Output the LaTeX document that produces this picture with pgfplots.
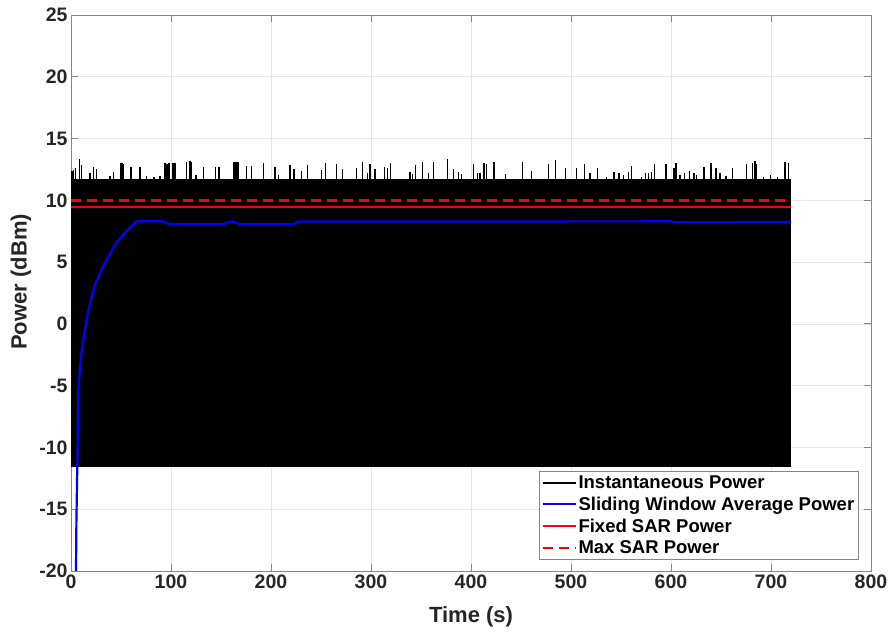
\documentclass[border=0pt]{standalone}
\usepackage{pgfplots}
\pgfplotsset{compat=1.18}
\usepackage{fontspec}
\setmainfont{Liberation Sans}
\definecolor{txt}{HTML}{262626}
\definecolor{axc}{HTML}{868686}
\definecolor{grd}{HTML}{E6E6E6}
\definecolor{sblue}{HTML}{0000FF}
\definecolor{sred}{HTML}{FF0000}

\begin{document}
\begin{tikzpicture}
\begin{axis}[
  scale only axis, width=800pt, height=556pt,
  xmin=0, xmax=800, ymin=-20, ymax=25,
  xtick={0,100,...,800}, ytick={-20,-15,...,25},
  grid=major, major grid style={grd, line width=0.6pt},
  axis line style={axc, line width=0.8pt},
  tick style={axc, line width=0.8pt},
  major tick length=7pt, tick align=inside,
  /pgf/number format/assume math mode=true,
  ticklabel style={font=\fontsize{19.5}{20}\selectfont\bfseries, text=txt},
  xlabel={Time (s)}, ylabel={Power (dBm)},
  label style={font=\fontsize{22}{24}\selectfont\bfseries, text=txt},
  xlabel style={at={(axis description cs:0.5,-0.0935)}, anchor=base},
  ylabel style={at={(axis description cs:-0.0625,0.52)}, anchor=center},
  legend style={at={(0.985,0.02)}, anchor=south east, draw=axc, line width=0.6pt,
    font=\fontsize{18.5}{22}\selectfont\bfseries, inner sep=2.5pt, row sep=3pt,
    cells={anchor=west}},
  legend image code/.code={\draw[line width=1.8pt, #1] (0pt,0pt) -- (33pt,0pt);},
]
% instantaneous power: dense block plus spikes
\addplot[fill=black, draw=none, forget plot] coordinates {
  (0,-11.55) (0,11.71) (720,11.71) (720,-11.55)};
\addplot[ycomb, black, line width=1.4pt, forget plot] coordinates {
  (1,12.4) (2.3,12.46) (4.7,12.6) (8.3,13.32) (10.7,12.86) (19,12.19) (22.3,12.73)
  (25.7,12.5) (39,11.97) (42.3,12.32) (50,13.05) (51.5,13.05) (52.5,12.95) (60,12.73)
  (69,12.73) (75.7,11.97) (83,11.92) (89,11.97) (94,13.0) (96,12.9) (98,13.0)
  (102,13.05) (104,13.0) (115.7,13.13) (119,13.2) (120.7,13.13) (125,12.05)
  (132.3,12.73) (144.7,12.73) (148,12.73) (163,13.13) (165,13.13) (167,13.1)
  (175.7,12.78) (180.7,12.78) (192.3,13.0) (204,12.68) (207.3,12.05) (219,12.86)
  (223,12.5) (230.7,12.4) (236.7,12.86) (250.7,12.45) (254.7,13.0) (265.7,12.95)
  (271.7,12.55) (285.7,12.65) (291.7,13.1) (296.3,12.2) (299,12.95) (304,12.55)
  (313.3,12.73) (316.3,12.6) (319.3,13.05) (339,12.27) (341.7,12.11) (344.3,12.86)
  (351.3,13.08) (357.3,12.19) (362.3,13.13) (376.3,13.32) (382.3,12.5) (387.3,12.27)
  (390.7,12.11) (402.3,12.94) (406.3,12.19) (409,12.24) (413,13.05) (415.7,12.94)
  (423,13.08) (434.7,12.11) (451.7,13.13) (460.7,12.4) (477.7,12.94) (484.3,13.25)
  (494.7,12.65) (505.7,12.65) (513.3,12.9) (519,12.19) (526.7,12.6) (535.7,11.92)
  (543,12.32) (548,12.19) (552.3,12.05) (557.3,12.32) (560.7,12.78) (570.7,11.85)
  (574.7,12.24) (577.3,12.24) (580.7,12.32) (583.3,12.95) (595,12.95) (603,12.6)
  (605,13.05) (609,12.05) (613.3,12.19) (618.3,12.4) (623,12.24) (625.7,12.05)
  (633,12.73) (640,13.05) (645,12.6) (649,12.19) (655,11.97) (661.7,12.6)
  (675.7,12.95) (681.7,13.0) (684,13.2) (685.7,12.95) (692.3,11.85) (699.7,12.05)
  (706.3,11.85) (714,13.13) (717.3,13.0)};
\addlegendimage{black}
\addlegendentry{Instantaneous Power}
\addplot[sblue, line width=2.2pt] coordinates {
  (4.9,-21) (5.4,-16) (6.3,-11.5) (7.3,-5.6) (9,-3.45) (11.7,-1.56) (16.7,0.87)
  (23.3,3.02) (31.7,4.64) (45,6.53) (55,7.5) (65,8.25) (67,8.3) (92,8.3) (96,8.15)
  (99,8.07) (152,8.07) (157,8.22) (160.7,8.3) (164,8.22) (169,8.07) (223,8.07)
  (226,8.28) (600,8.3) (604,8.22) (662,8.22) (666,8.25) (720,8.25)};
\addlegendentry{Sliding Window Average Power}
\addplot[sred, line width=2.4pt] coordinates {(0,9.46) (720,9.46)};
\addlegendentry{Fixed SAR Power}
\addplot[sred, line width=2.4pt, dash pattern=on 10pt off 6pt] coordinates {(0,10) (720,10)};
\addlegendentry{Max SAR Power}
\end{axis}
\pgfresetboundingbox
\path[use as bounding box] ([shift={(-71pt,-62pt)}]current axis.south west)
  rectangle ([shift={(22pt,15pt)}]current axis.north east);
\end{tikzpicture}
\end{document}
